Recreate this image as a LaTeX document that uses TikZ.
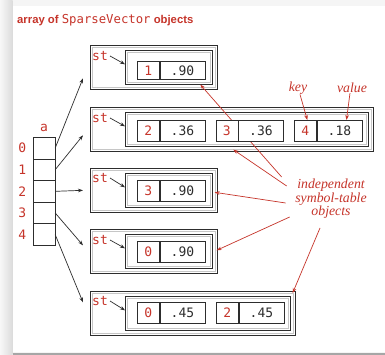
\documentclass[tikz,border=0pt]{standalone}
\usepackage{fontspec}
\newfontfamily\titlefont{Liberation Sans}
\newfontfamily\codefont{DejaVu Sans Mono}
\newfontfamily\notefamily{Liberation Serif}
\usetikzlibrary{arrows.meta,positioning}
\definecolor{bookred}{RGB}{198,52,42}
\definecolor{ink}{RGB}{45,45,45}
\newcommand\cellfnt{\codefont\fontsize{13}{13}\selectfont}
\newcommand\notefnt{\notefamily\itshape\fontsize{13.8}{13.5}\selectfont}
\tikzset{
  objbox/.style={draw=ink, line width=0.65pt, anchor=north west, inner sep=0pt,
    path picture={\draw[gray!45, line width=0.5pt]
      ([shift={(1.7pt,-1.7pt)}]path picture bounding box.north west) rectangle
      ([shift={(-1.7pt,1.7pt)}]path picture bounding box.south east);}},
  keycell/.style={draw=ink, fill=white, line width=0.65pt, minimum width=22pt,
    minimum height=21pt, inner sep=0pt, anchor=north west, text=bookred, font=\cellfnt},
  valcell/.style={keycell, minimum width=45pt, text=ink},
  arrcell/.style={draw=ink, line width=0.65pt, minimum width=21.5pt,
    minimum height=21.6pt, inner sep=0pt, anchor=north west},
  stlabel/.style={text=bookred, font=\cellfnt, inner sep=0pt},
  note/.style={text=bookred, font=\notefnt, inner sep=0pt},
  arr/.style={-{Stealth[length=5pt,width=3.6pt]}, ink, line width=0.7pt},
  redarr/.style={-{Stealth[length=5pt,width=3.6pt]}, bookred, line width=0.7pt},
}
\begin{document}
\begin{tikzpicture}[x=1pt, y=-1pt]
  \useasboundingbox (0,0) rectangle (385,355);
  % panel
  \fill[gray!8] (0,0) rectangle (385,355);
  \shade[left color=gray!6, right color=gray!28] (0,0) rectangle (12.5,355);
  \fill[white] (13,6) rectangle (385,352);
  \fill[gray!70] (13,352.5) rectangle (385,355);

  \node[anchor=west, text=bookred, inner sep=0pt] (title) at (17,20)
    {\titlefont\bfseries\fontsize{11.3}{13}\selectfont array of
     {\codefont\mdseries\fontsize{12.3}{13}\selectfont SparseVector} objects};

  % the five symbol tables
  \node[objbox, minimum width=127pt, minimum height=44pt] (o1) at (90,45) {};
  \node[objbox, minimum width=87pt, minimum height=34pt] (i1) at (125,50) {};
  \node[objbox, minimum width=283pt, minimum height=44pt] (o2) at (90,107) {};
  \node[objbox, minimum width=243pt, minimum height=34pt] (i2) at (125,112) {};
  \node[objbox, minimum width=127pt, minimum height=44pt] (o3) at (90,168) {};
  \node[objbox, minimum width=87pt, minimum height=34pt] (i3) at (125,173) {};
  \node[objbox, minimum width=127pt, minimum height=44pt] (o4) at (90,229) {};
  \node[objbox, minimum width=87pt, minimum height=34pt] (i4) at (125,234) {};
  \node[objbox, minimum width=205pt, minimum height=44pt] (o5) at (90,291) {};
  \node[objbox, minimum width=165pt, minimum height=34pt] (i5) at (125,296) {};

  \node[stlabel] (s1) at (100,56) {st};
  \node[stlabel] (s2) at (100,118) {st};
  \node[stlabel] (s3) at (100,178) {st};
  \node[stlabel] (s4) at (100,240) {st};
  \node[stlabel] (s5) at (100,301) {st};
  \draw[arr] ([xshift=2pt]s1.east) -- ([yshift=3pt]i1.west);
  \draw[arr] ([xshift=2pt]s2.east) -- ([yshift=3pt]i2.west);
  \draw[arr] ([xshift=2pt]s3.east) -- ([yshift=3pt]i3.west);
  \draw[arr] ([xshift=2pt]s4.east) -- ([yshift=3pt]i4.west);
  \draw[arr] ([xshift=2pt]s5.east) -- ([yshift=3pt]i5.west);

  % annotation
  \node[note, align=center] (note) at (331,199) {independent\\symbol-table\\objects};
  \draw[redarr] ([shift={(-13.5pt,22pt)}]note.west) -- ([xshift=31.5pt]i1.south);
  \draw[redarr] ([shift={(-8.5pt,13pt)}]note.west) -- ([shift={(1.5pt,2pt)}]o2.south);
  \draw[redarr] ([shift={(-9.5pt,-4pt)}]note.west) -- ([shift={(-3pt,-2pt)}]o3.east);
  \draw[redarr] ([shift={(-5.5pt,-18pt)}]note.west) -- ([shift={(-1pt,1pt)}]o4.east);
  \draw[redarr] ([shift={(-11pt,-9pt)}]note.south) -- ([shift={(-3pt,-2pt)}]o5.north east);

  % entries
  \node[keycell, minimum height=17.5pt] (k1) at (137,61.5) {1};
  \node[valcell, minimum height=17.5pt, right=0pt of k1] (v1) {.90};
  \node[keycell] (k2a) at (137,120) {2};
  \node[valcell, right=0pt of k2a] (v2a) {.36};
  \node[keycell] (k2b) at (215.5,120) {3};
  \node[valcell, right=0pt of k2b] (v2b) {.36};
  \node[keycell] (k2c) at (294,120) {4};
  \node[valcell, right=0pt of k2c] (v2c) {.18};
  \node[keycell] (k3) at (137,180) {3};
  \node[valcell, right=0pt of k3] (v3) {.90};
  \node[keycell] (k4) at (137,241) {0};
  \node[valcell, right=0pt of k4] (v4) {.90};
  \node[keycell] (k5a) at (137,302) {0};
  \node[valcell, right=0pt of k5a] (v5a) {.45};
  \node[keycell] (k5b) at (216,302) {2};
  \node[valcell, right=0pt of k5b] (v5b) {.45};

  \node[note] (key) at (298,88) {key};
  \node[note] (value) at (352,88) {value};
  \draw[redarr] ([xshift=2pt]key.south) -- ([xshift=2pt]k2c.north);
  \draw[redarr] ([xshift=-2pt]value.south) -- ([xshift=7pt]v2c.north);

  % the array a[]
  \foreach \i in {0,...,4} {
    \node[arrcell] (a\i) at (33,{137+21.6*\i}) {};
    \node[stlabel, left=6.5pt of a\i] (n\i) {\i};
  }
  \node[stlabel, above=5pt of a0] (alabel) {a};
  \draw[arr] (a0.east) -- ([shift={(-7pt,-11pt)}]o1.west);
  \draw[arr] (a1.east) -- ([shift={(-7pt,-6pt)}]o2.west);
  \draw[arr] (a2.east) -- ([xshift=-7pt]o3.west);
  \draw[arr] (a3.east) -- ([shift={(-7pt,6pt)}]o4.west);
  \draw[arr] (a4.east) -- ([shift={(-7pt,11pt)}]o5.west);
\end{tikzpicture}
\end{document}
